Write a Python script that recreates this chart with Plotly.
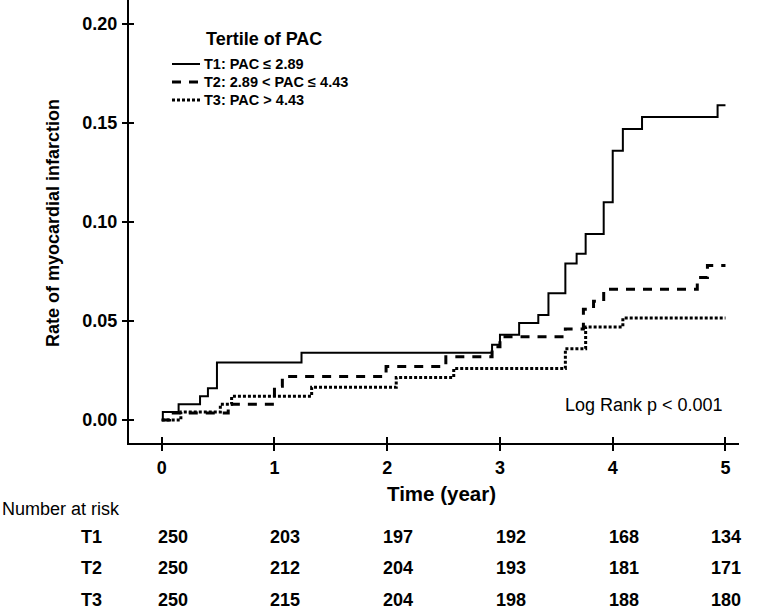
import plotly.graph_objects as go

# ---------------- data ----------------
t1_time = [0, 0.01, 0.15, 0.34, 0.41, 0.49, 1.24, 2.93, 3.00, 3.17, 3.34, 3.43, 3.58, 3.68, 3.76, 3.92, 4.00, 4.09, 4.26, 4.93, 5.00]
t1_rate = [0, 0.004, 0.008, 0.012, 0.016, 0.029, 0.034, 0.038, 0.043, 0.049, 0.053, 0.064, 0.079, 0.084, 0.094, 0.110, 0.136, 0.147, 0.153, 0.159, 0.159]

t2_time = [0, 0.07, 0.59, 1.00, 1.07, 1.99, 2.52, 2.93, 3.00, 3.58, 3.74, 3.83, 3.92, 4.75, 4.84, 5.00]
t2_rate = [0, 0.0035, 0.008, 0.017, 0.022, 0.027, 0.032, 0.037, 0.042, 0.046, 0.056, 0.060, 0.066, 0.072, 0.078, 0.078]

t3_time = [0, 0.17, 0.52, 0.62, 1.33, 2.08, 2.59, 3.58, 3.76, 4.09, 5.00]
t3_rate = [0, 0.004, 0.008, 0.012, 0.0165, 0.0215, 0.026, 0.036, 0.047, 0.0515, 0.0515]

group_labels = ["T1", "T2", "T3"]
legend_labels = ["T1: PAC ≤ 2.89", "T2: 2.89 < PAC ≤ 4.43", "T3: PAC > 4.43"]
legend_title = "Tertile of PAC"

risk_times = [0, 1, 2, 3, 4, 5]
risk_t1 = [250, 203, 197, 192, 168, 134]
risk_t2 = [250, 212, 204, 193, 181, 171]
risk_t3 = [250, 215, 204, 198, 188, 180]

x_ticks = [0, 1, 2, 3, 4, 5]
y_ticks = [0.00, 0.05, 0.10, 0.15, 0.20]
y_tick_text = ["0.00", "0.05", "0.10", "0.15", "0.20"]

stat_text = "Log Rank p < 0.001"
x_title = "Time (year)"
y_title = "Rate of myocardial infarction"
risk_title = "Number at risk"

# ---------------- layout constants ----------------
W, H = 760, 611
ML, MR, MT, MB = 129, 21, 0, 168
PW = W - ML - MR
PH = H - MT - MB
XR = [-0.29, 5.12]
YR = [-0.0116, 0.2121]
FONT = "Arial, Liberation Sans, sans-serif"


def px_x(px):
    return (px - ML) / PW


def px_y(py):
    return (MT + PH - py) / PH


styles = [
    dict(color="black", width=2, dash="solid"),
    dict(color="black", width=3, dash="9px,8px"),
    dict(color="black", width=3, dash="3px,2px"),
]

fig = go.Figure()
for tt, rr, st, name in zip([t1_time, t2_time, t3_time], [t1_rate, t2_rate, t3_rate], styles, legend_labels):
    fig.add_trace(go.Scatter(x=tt, y=rr, mode="lines", line=dict(shape="hv", **st),
                             name=name, showlegend=False, hoverinfo="skip"))

# dummy trace for the overlay axes (crossing tick halves)
fig.add_trace(go.Scatter(x=[None], y=[None], xaxis="x2", yaxis="y2", showlegend=False, hoverinfo="skip"))

tickfont = dict(family=FONT, size=18, color="black", weight="bold")

fig.update_layout(
    width=W, height=H,
    margin=dict(l=ML, r=MR, t=MT, b=MB),
    paper_bgcolor="white", plot_bgcolor="white",
    showlegend=False,
    xaxis=dict(range=XR, tickvals=x_ticks, ticks="outside", ticklen=6, tickwidth=2, tickcolor="black",
               showline=True, linecolor="black", linewidth=2, showgrid=False, zeroline=False,
               tickfont=tickfont, ticklabelstandoff=1, fixedrange=True),
    yaxis=dict(range=YR, tickvals=y_ticks, ticktext=y_tick_text, ticks="outside", ticklen=5, tickwidth=2,
               tickcolor="black", showline=True, linecolor="black", linewidth=2, showgrid=False,
               zeroline=False, tickfont=tickfont, ticklabelstandoff=1, fixedrange=True),
    xaxis2=dict(range=XR, tickvals=x_ticks, ticks="inside", ticklen=6, tickwidth=2, tickcolor="black",
                overlaying="x", anchor="y", side="bottom", showticklabels=False, showline=False,
                showgrid=False, zeroline=False, fixedrange=True),
    yaxis2=dict(range=YR, tickvals=y_ticks, ticks="inside", ticklen=5, tickwidth=2, tickcolor="black",
                overlaying="y", anchor="x", side="left", showticklabels=False, showline=False,
                showgrid=False, zeroline=False, fixedrange=True),
)

ann = []
# axis titles
ann.append(dict(text=y_title, xref="paper", yref="paper", x=px_x(53), y=px_y(223), textangle=-90,
                showarrow=False, font=dict(family=FONT, size=18, color="black", weight="bold"),
                xanchor="center", yanchor="middle"))
ann.append(dict(text=x_title, xref="paper", yref="paper", x=px_x(441), y=px_y(493),
                showarrow=False, font=dict(family=FONT, size=20.5, color="black", weight="bold"),
                xanchor="center", yanchor="middle"))
# stat
ann.append(dict(text=stat_text, xref="paper", yref="paper", x=px_x(725), y=px_y(405),
                showarrow=False, font=dict(family=FONT, size=18, color="black"),
                xanchor="right", yanchor="middle"))
# legend (manual)
ann.append(dict(text=legend_title, xref="paper", yref="paper", x=px_x(204), y=px_y(39),
                showarrow=False, font=dict(family=FONT, size=18, color="black", weight="bold"),
                xanchor="left", yanchor="middle"))
shapes = []
leg_rows = [64, 82, 100]
for lab, st, py in zip(legend_labels, styles, leg_rows):
    ann.append(dict(text=lab, xref="paper", yref="paper", x=px_x(202), y=px_y(py),
                    showarrow=False, font=dict(family=FONT, size=14.5, color="black", weight="bold"),
                    xanchor="left", yanchor="middle"))
    shapes.append(dict(type="line", xref="paper", yref="paper", x0=px_x(172), x1=px_x(200),
                       y0=px_y(py), y1=px_y(py), line=dict(color="black", width=st["width"], dash=st["dash"])))

# number at risk table
ann.append(dict(text=risk_title, xref="paper", yref="paper", x=px_x(0), y=px_y(509),
                showarrow=False, font=dict(family=FONT, size=18, color="black"),
                xanchor="left", yanchor="middle"))
row_y = [537, 568, 600]
for lab, vals, py in zip(group_labels, [risk_t1, risk_t2, risk_t3], row_y):
    ann.append(dict(text=lab, xref="paper", yref="paper", x=px_x(91), y=px_y(py),
                    showarrow=False, font=dict(family=FONT, size=18, color="black", weight="bold"),
                    xanchor="center", yanchor="middle"))
    for t, v in zip(risk_times, vals):
        ann.append(dict(text=str(v), xref="x", yref="paper", x=t, y=px_y(py),
                        xshift=(11 if t < 5 else 1),
                        showarrow=False, font=dict(family=FONT, size=18, color="black", weight="bold"),
                        xanchor="center", yanchor="middle"))

fig.update_layout(annotations=ann, shapes=shapes)
fig.write_html("out.html", config={"displayModeBar": False, "staticPlot": True},
               post_script="document.body.style.margin='0';document.body.style.overflow='hidden';")
